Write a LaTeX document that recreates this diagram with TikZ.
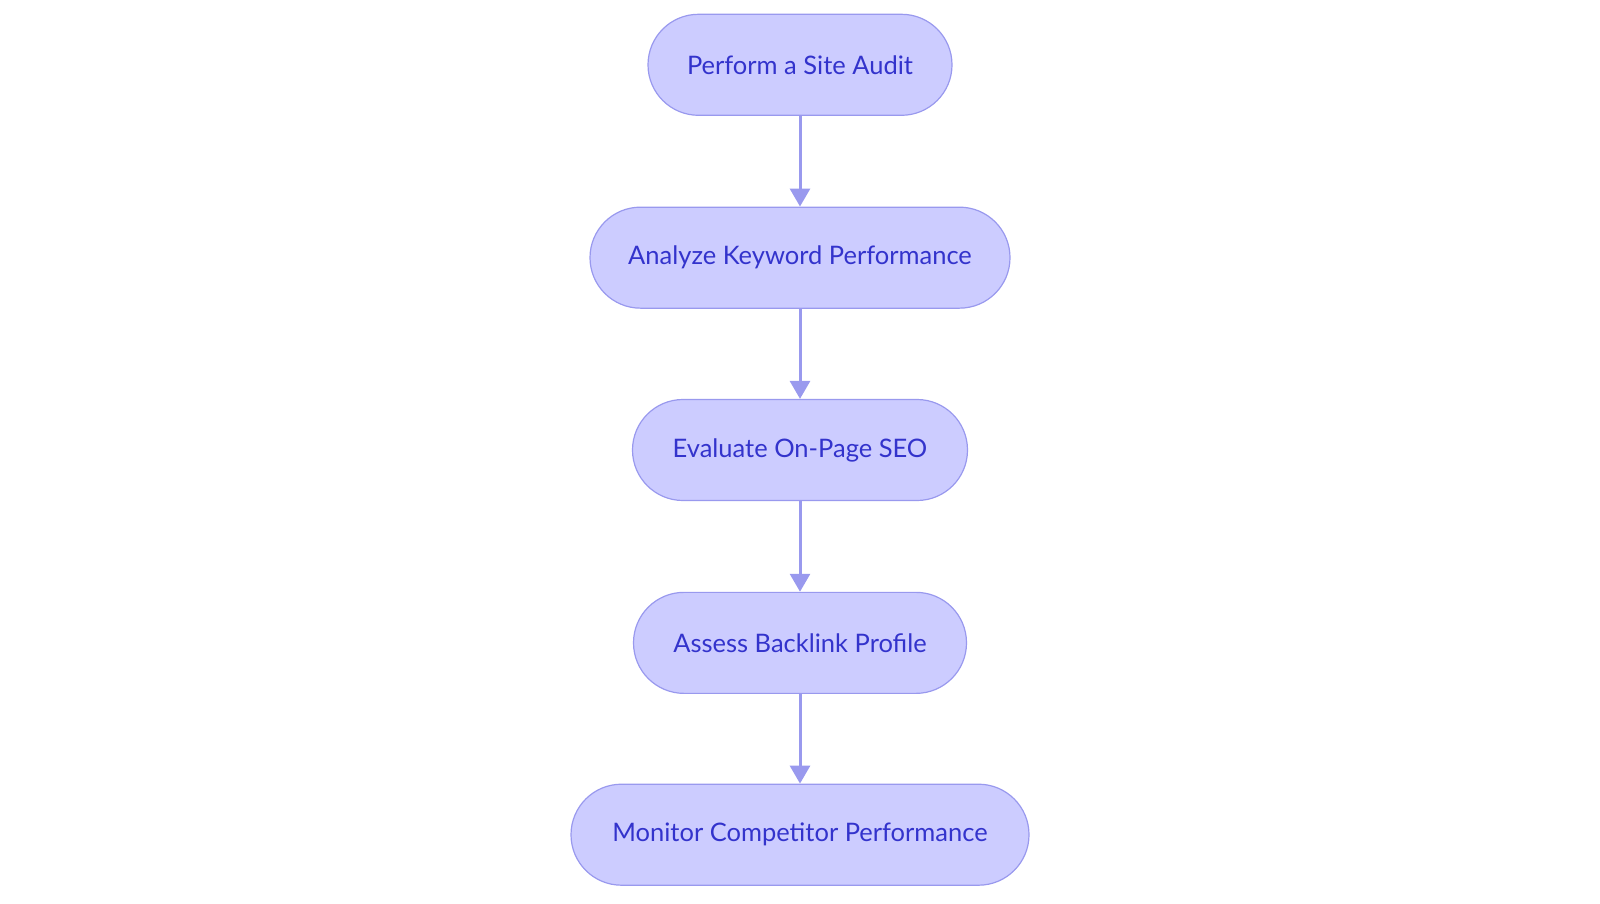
\documentclass[tikz,border=0pt]{standalone}
\usepackage{fontspec}
\setmainfont{Lato}
\usetikzlibrary{arrows.meta}
\definecolor{nfill}{HTML}{CCCCFF}
\definecolor{nline}{HTML}{9999EE}
\definecolor{ntext}{HTML}{3333CC}
\begin{document}
\begin{tikzpicture}[x=1.0204pt,y=-1.0204pt,
  box/.style={draw=nline,fill=nfill,line width=1.2pt,rounded corners=50.5pt,minimum height=101pt,text=ntext,font=\fontsize{25.5}{29}\selectfont,inner sep=0pt},
  arr/.style={draw=nline,line width=3pt,-{Triangle[length=18pt,width=20pt]}}]
\node[box,minimum width=304pt] (a) at (784,63.5) {Perform a Site Audit};
\node[box,minimum width=420pt] (b) at (784,252.5) {Analyze Keyword Performance};
\node[box,minimum width=335pt] (c) at (784,441) {Evaluate On-Page SEO};
\node[box,minimum width=333pt] (d) at (784,630) {Assess Backlink Profile};
\node[box,minimum width=458pt] (e) at (784,818) {Monitor Competitor Performance};
\draw[arr] (a) -- (b);
\draw[arr] (b) -- (c);
\draw[arr] (c) -- (d);
\draw[arr] (d) -- (e);
\pgfresetboundingbox
\useasboundingbox (0,0) rectangle (1568,885);
\end{tikzpicture}
\end{document}
